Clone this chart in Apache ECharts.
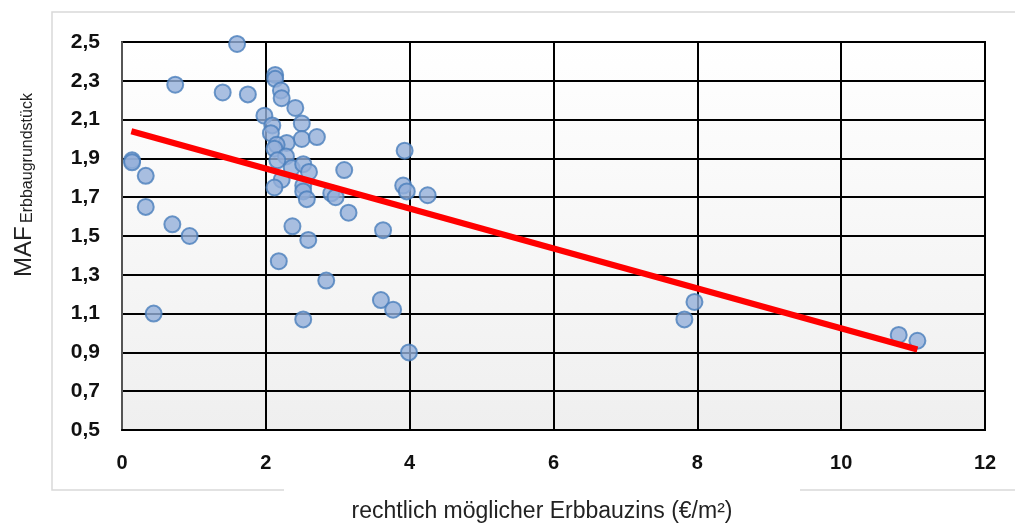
<!DOCTYPE html>
<html>
<head>
<meta charset="utf-8">
<script src="https://cdn.jsdelivr.net/npm/echarts@6/dist/echarts.min.js"></script>
<style>
  html, body { margin: 0; padding: 0; background: #ffffff; }
  #main { width: 1015px; height: 524px; }
</style>
</head>
<body>
<div id="main"></div>
<script>
// Erbbauzins (€/m²) vs. MAF
const zinsValues = [
  1.60, 0.74, 1.40, 1.75, 2.13, 2.13, 2.21, 2.22, 2.41, 1.98,
  2.50, 2.09, 2.07, 2.50, 2.71, 2.29, 2.15, 2.12, 2.28, 0.14,
  0.14, 2.16, 0.33, 3.93, 3.09, 2.36, 2.52, 2.60, 2.22, 2.12,
  2.52, 2.52, 2.57, 2.91, 2.97, 3.91, 3.96, 4.25, 3.15, 0.33,
  0.70, 0.94, 2.37, 2.59, 3.63, 2.18, 2.84, 3.60, 3.77, 0.44,
  2.52, 3.99, 7.96, 7.82, 10.80, 11.06
];
const mafValues = [
  2.49, 2.28, 2.24, 2.23, 2.33, 2.31, 2.25, 2.21, 2.16, 2.12,
  2.08, 2.07, 2.03, 2.00, 2.01, 1.98, 1.97, 1.95, 1.91, 1.89,
  1.88, 1.89, 1.81, 1.94, 1.84, 1.85, 1.87, 1.83, 1.79, 1.75,
  1.76, 1.73, 1.69, 1.72, 1.70, 1.76, 1.73, 1.71, 1.62, 1.65,
  1.56, 1.50, 1.55, 1.48, 1.53, 1.37, 1.27, 1.17, 1.12, 1.10,
  1.07, 0.90, 1.16, 1.07, 0.99, 0.96
];
// linear trend line end points
const trendX = [0.13, 11.06];
const trendY = [2.04, 0.915];

const xTicks = [0, 2, 4, 6, 8, 10, 12];
const yTicks = [0.5, 0.7, 0.9, 1.1, 1.3, 1.5, 1.7, 1.9, 2.1, 2.3, 2.5];

const points = zinsValues.map((x, i) => [x, mafValues[i]]);
const trend = trendX.map((x, i) => [x, trendY[i]]);

const labelFont = "'Liberation Sans', Arial, sans-serif";

const chart = echarts.init(document.getElementById('main'), null, {renderer: 'canvas'});

const options = {
  animation: false,
  backgroundColor: '#ffffff',
  grid: {
    left: 122,
    top: 42,
    width: 863,
    height: 388,
    show: true,
    borderColor: '#000000',
    borderWidth: 2,
    backgroundColor: new echarts.graphic.LinearGradient(0, 0, 0, 1, [
      {offset: 0, color: '#ffffff'},
      {offset: 1, color: '#efefef'}
    ])
  },
  xAxis: {
    type: 'value',
    min: xTicks[0],
    max: xTicks[xTicks.length - 1],
    interval: 2,
    axisLine: {show: true, lineStyle: {color: '#000000', width: 2}},
    axisTick: {show: false},
    splitLine: {show: true, lineStyle: {color: '#000000', width: 2}},
    axisLabel: {
      margin: 23,
      color: '#111111',
      fontFamily: labelFont,
      fontWeight: 'bold',
      fontSize: 20
    }
  },
  yAxis: {
    type: 'value',
    min: yTicks[0],
    max: yTicks[yTicks.length - 1],
    interval: 0.2,
    axisLine: {show: true, lineStyle: {color: '#555555', width: 2}},
    axisTick: {show: false},
    splitLine: {show: true, lineStyle: {color: '#000000', width: 2}},
    axisLabel: {
      margin: 22,
      color: '#111111',
      fontFamily: labelFont,
      fontWeight: 'bold',
      fontSize: 21,
      formatter: v => v.toFixed(1).replace('.', ',')
    }
  },
  graphic: [
    {
      // outer chart frame
      type: 'rect',
      z: -10,
      shape: {x: 52, y: 12, width: 1000, height: 478},
      style: {fill: 'none', stroke: '#d9d9d9', lineWidth: 1.5}
    },
    {
      // gap in the frame behind the axis title
      type: 'rect',
      z: -9,
      shape: {x: 284, y: 486, width: 516, height: 10},
      style: {fill: '#ffffff'}
    },
    {
      type: 'text',
      x: 542,
      y: 512,
      style: {
        text: 'rechtlich möglicher Erbbauzins (€/m²)',
        fontFamily: "'Liberation Sans', Arial, sans-serif",
        fontSize: 23,
        fill: '#222222',
        align: 'center',
        verticalAlign: 'middle'
      }
    },
    {
      type: 'text',
      x: 24,
      y: 185,
      rotation: Math.PI / 2,
      style: {
        text: '{a|MAF} {b|Erbbaugrundstück}',
        align: 'center',
        verticalAlign: 'middle',
        rich: {
          a: {
            fontFamily: "'Liberation Sans', Arial, sans-serif",
            fontSize: 24,
            fill: '#222222',
            verticalAlign: 'middle'
          },
          b: {
            fontFamily: "'Liberation Sans', Arial, sans-serif",
            fontSize: 16,
            fill: '#222222',
            verticalAlign: 'bottom',
            padding: [8, 0, 0, 0]
          }
        }
      }
    }
  ],
  series: [
    {
      name: 'MAF',
      type: 'scatter',
      data: points,
      symbol: 'circle',
      symbolSize: 16,
      itemStyle: {
        color: '#93afd9',
        borderColor: '#4a7ebb',
        borderWidth: 2
      },
      z: 2
    },
    {
      name: 'Trend',
      type: 'line',
      data: trend,
      showSymbol: false,
      symbol: 'none',
      lineStyle: {color: '#ff0000', width: 6},
      z: 3
    }
  ]
};

chart.setOption(options);
</script>
</body>
</html>
